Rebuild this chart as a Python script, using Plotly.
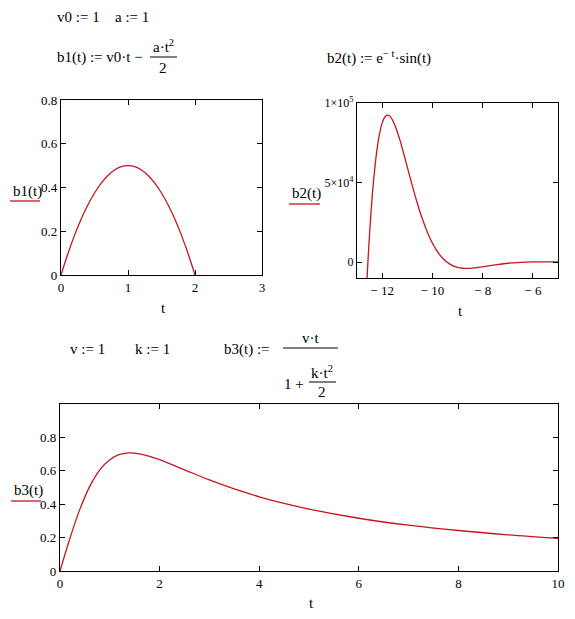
import plotly.graph_objects as go

# b1(t) = v0*t - a*t^2/2  (v0 = 1, a = 1)
t1 = [0, 0.1, 0.2, 0.3, 0.4, 0.5, 0.6, 0.7, 0.8, 0.9, 1.0,
      1.1, 1.2, 1.3, 1.4, 1.5, 1.6, 1.7, 1.8, 1.9, 2.0]
b1 = [0, 0.095, 0.18, 0.255, 0.32, 0.375, 0.42, 0.455, 0.48, 0.495, 0.5,
      0.495, 0.48, 0.455, 0.42, 0.375, 0.32, 0.255, 0.18, 0.095, 0]

# b2(t) = e^-t * sin(t)
t2 = [-12.7, -12.65, -12.6, -12.55, -12.5, -12.4, -12.3, -12.2, -12.1, -12.0,
      -11.9, -11.8, -11.7, -11.6, -11.5, -11.4, -11.3, -11.2, -11.1, -11.0,
      -10.8, -10.6, -10.4, -10.2, -10.0, -9.8, -9.6, -9.4, -9.2, -9.0,
      -8.8, -8.6, -8.4, -8.2, -8.0, -7.5, -7.0, -6.5, -6.0, -5.5, -5.0]
b2 = [-43650, -26030, -9970, 4618, 17796, 40208, 57831, 71212, 80878, 87329,
      91043, 92413, 91873, 89749, 86406, 82113, 77107, 71613, 65809, 59874,
      48086, 37010, 27202, 18828, 11983, 6609, 2574, -300, -2206, -3339,
      -3880, -3990, -3801, -3425, -2949, -1696, -720, -143, 113, 173, 142]

# b3(t) = v*t / (1 + k*t^2/2)  (v = 1, k = 1)
t3 = [0, 0.2, 0.4, 0.6, 0.8, 1.0, 1.2, 1.4, 1.6, 1.8, 2.0,
      2.5, 3.0, 3.5, 4.0, 4.5, 5.0, 6.0, 7.0, 8.0, 9.0, 10.0]
b3 = [0, 0.1961, 0.3704, 0.5085, 0.6061, 0.6667, 0.6977, 0.7071, 0.7018, 0.6870, 0.6667,
      0.6061, 0.5455, 0.4912, 0.4444, 0.4045, 0.3704, 0.3158, 0.2745, 0.2424, 0.2169, 0.1961]

# page body keeps its 8px margin, so the figure is 8px smaller and shifted
OFF = 8
W, H = 575 - OFF, 619 - OFF
RED = '#c8141e'
FONT = 'Liberation Serif'


def px(x):
    return (x - OFF) / W


def py(y):
    return 1 - (y - OFF) / H


fig = go.Figure()
fig.add_trace(go.Scatter(x=t1, y=b1, mode='lines', line=dict(color=RED, width=1.3, shape='spline'),
                         xaxis='x', yaxis='y'))
fig.add_trace(go.Scatter(x=t2, y=b2, mode='lines', line=dict(color=RED, width=1.3, shape='spline'),
                         xaxis='x2', yaxis='y2'))
fig.add_trace(go.Scatter(x=t3, y=b3, mode='lines', line=dict(color=RED, width=1.3, shape='spline'),
                         xaxis='x3', yaxis='y3'))

ax = dict(showline=True, linecolor='black', linewidth=1.2, mirror='ticks', ticks='inside',
          ticklen=5, tickcolor='black', showgrid=False, zeroline=False, automargin=False,
          tickfont=dict(family=FONT, size=13, color='black'))

minus = '\u2212 '
fig.update_layout(
    width=W, height=H, margin=dict(l=0, r=0, t=0, b=0), autosize=False,
    paper_bgcolor='white', plot_bgcolor='white', showlegend=False,
    font=dict(family=FONT, color='black'),
    xaxis=dict(ax, domain=[px(61), px(262)], range=[0, 3], tickvals=[0, 1, 2, 3], anchor='y'),
    yaxis=dict(ax, domain=[py(275), py(100)], range=[0, 0.8],
               tickvals=[0, 0.2, 0.4, 0.6, 0.8], ticktext=['0', '0.2', '0.4', '0.6', '0.8'], anchor='x'),
    xaxis2=dict(ax, domain=[px(357), px(558)], range=[-13, -5], tickvals=[-12, -10, -8, -6],
                ticktext=[minus + '12', minus + '10', minus + '8', minus + '6'], anchor='y2'),
    yaxis2=dict(ax, domain=[py(278), py(103)], range=[-10000, 100000], tickvals=[0, 50000, 100000],
                ticktext=['0', '5\u00d710<sup>4</sup>', '1\u00d710<sup>5</sup>'], anchor='x2'),
    xaxis3=dict(ax, domain=[px(60), px(558)], range=[0, 10], tickvals=[0, 2, 4, 6, 8, 10], anchor='y3'),
    yaxis3=dict(ax, domain=[py(571), py(404)], range=[0, 1],
                tickvals=[0, 0.2, 0.4, 0.6, 0.8], ticktext=['0', '0.2', '0.4', '0.6', '0.8'], anchor='x3'),
)
fig.update_yaxes(tickfont=dict(size=12), selector=dict(anchor='x2'))


def note(text, x, y, size=15, xanchor='left'):
    fig.add_annotation(text=text, x=px(x), y=py(y), xref='paper', yref='paper', showarrow=False,
                       xanchor=xanchor, yanchor='middle', font=dict(family=FONT, size=size, color='black'))


def bar(x0, x1, y, color='black', width=1):
    fig.add_shape(type='line', xref='paper', yref='paper', x0=px(x0), x1=px(x1), y0=py(y), y1=py(y),
                  line=dict(color=color, width=width))


# definitions above the first row
note('v0 := 1', 55, 17)
note('a := 1', 113, 17)
note('b1(t) := v0\u00b7t \u2212', 55, 57)
note('a\u00b7t<sup>2</sup>', 163, 46, xanchor='center')
bar(150, 177, 57)
note('2', 163, 68, xanchor='center')
note('b2(t) := e<sup>\u2212 t</sup>\u00b7sin(t)', 325, 57)

# definitions above the bottom plot
note('v := 1', 68, 349)
note('k := 1', 133, 349)
note('b3(t) :=', 222, 349)
note('v\u00b7t', 310, 338, xanchor='center')
bar(283, 338, 348)
note('1 +', 282, 384)
note('k\u00b7t<sup>2</sup>', 322, 372, xanchor='center')
bar(309, 336, 382)
note('2', 322, 392, xanchor='center')

# trace labels with red legend lines
note('b1(t)', 11, 191)
bar(10, 40, 201, RED, 1.3)
note('b2(t)', 290, 193)
bar(289, 320, 204, RED, 1.3)
note('b3(t)', 12, 490)
bar(11, 41, 501, RED, 1.3)

# axis titles
note('t', 163, 308, xanchor='center')
note('t', 460, 311, xanchor='center')
note('t', 311, 603, xanchor='center')

fig.write_html('out.html')
